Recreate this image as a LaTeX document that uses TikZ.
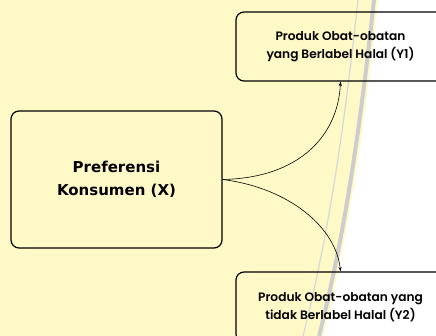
\documentclass[tikz,border=0pt]{standalone}
\usepackage{fontspec}
\usetikzlibrary{arrows.meta}
\newfontfamily\xfont{DejaVu Sans}
\newfontfamily\yfont{Poppins SemiBold}
\definecolor{bgyellow}{RGB}{255,249,200}
\definecolor{arcgray}{RGB}{205,205,205}
\tikzset{
  varbox/.style={draw=black, line width=1.2pt, rounded corners=8pt, align=center, inner sep=0pt},
  ybox/.style={varbox, minimum width=209pt, minimum height=69pt, font=\yfont\fontsize{12.2}{17.6}\selectfont},
  xbox/.style={varbox, minimum width=211pt, minimum height=137pt, font=\xfont\bfseries\fontsize{15}{23}\selectfont},
  link/.style={draw=black, line width=0.6pt, -{Stealth[length=4.5pt,width=3.2pt]}}
}
\begin{document}
\begin{tikzpicture}[x=1pt,y=-1pt]
\useasboundingbox (0,0) rectangle (436,336);
\clip (0,0) rectangle (436,336);
% background watermark area
\fill[bgyellow] (0,0) -- (378,0) .. controls (365,120) and (350,230) .. (323,336) -- (0,336) -- cycle;
\draw[arcgray, line width=4pt] (374,0) .. controls (361,120) and (346,230) .. (319,336);
\draw[arcgray!80, line width=1.2pt] (358,0) .. controls (345,120) and (330,230) .. (303,336);
% nodes
\node[xbox] (x) at (116.5,179.5) {Preferensi\\Konsumen (X)};
\node[ybox] (y1) at (340.5,46.5) {Produk Obat-obatan\\yang Berlabel Halal (Y1)};
\node[ybox, minimum height=70pt] (y2) at (340.5,307) {Produk Obat-obatan yang\\tidak Berlabel Halal (Y2)};
% connectors
\coordinate (s) at (x.east);
\draw[link] (s) .. controls (300,178) and (338,135) .. (y1.south);
\draw[link] (s) .. controls (290,188) and (336,228) .. (y2.north);
\end{tikzpicture}
\end{document}
